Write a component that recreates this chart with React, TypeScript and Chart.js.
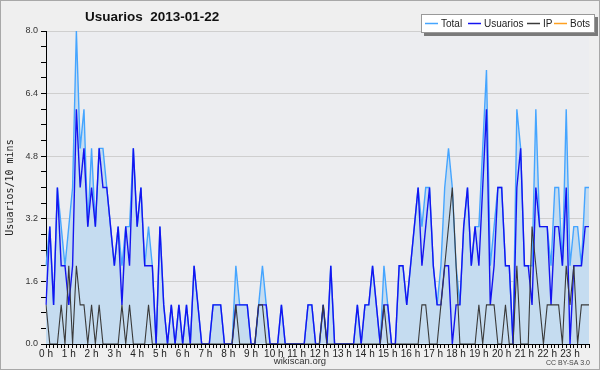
import React, { useEffect, useRef } from 'react';
import { Chart, registerables } from 'chart.js';

Chart.register(...registerables);

// 10-minute slots of the day (144)
const slots: string[] = Array.from({ length: 144 }, (_, i) => `${Math.floor(i / 6)}:${(i % 6) * 10}`);
const hourLabels: string[] = Array.from({ length: 24 }, (_, h) => `${h} h`);
const yTickLabels = [0, 1.6, 3.2, 4.8, 6.4, 8.0];

const total = [
  2, 3, 1, 4, 3, 2, 3, 4, 8, 5, 6, 3, 5, 3, 5, 5, 4, 3,
  2, 3, 2, 3, 3, 5, 3, 4, 2, 3, 2, 0, 3, 1, 0, 1, 0, 1,
  0, 1, 0, 2, 1, 0, 0, 0, 1, 1, 1, 0, 0, 0, 2, 1, 1, 1,
  0, 0, 1, 2, 1, 0, 0, 0, 1, 0, 0, 0, 0, 0, 0, 1, 1, 0,
  0, 1, 0, 2, 0, 0, 0, 0, 0, 0, 1, 0, 1, 1, 2, 1, 0, 2,
  1, 0, 0, 2, 2, 1, 2, 3, 4, 3, 4, 4, 2, 1, 2, 4, 5, 4,
  2, 1, 3, 4, 2, 3, 3, 5, 7, 2, 3, 4, 4, 2, 2, 0, 6, 5,
  2, 2, 2, 6, 3, 3, 3, 2, 4, 4, 2, 6, 2, 3, 3, 2, 4, 4,
];
const usuarios = [
  1, 3, 1, 4, 2, 2, 1, 2, 6, 4, 5, 3, 4, 3, 5, 4, 4, 3,
  2, 3, 1, 3, 2, 5, 3, 4, 2, 2, 2, 0, 3, 1, 0, 1, 0, 1,
  0, 1, 0, 2, 1, 0, 0, 0, 1, 1, 1, 0, 0, 0, 1, 1, 1, 1,
  0, 0, 1, 1, 1, 0, 0, 0, 1, 0, 0, 0, 0, 0, 0, 1, 1, 0,
  0, 1, 0, 2, 0, 0, 0, 0, 0, 0, 1, 0, 1, 1, 2, 1, 0, 1,
  1, 0, 0, 2, 2, 1, 2, 3, 4, 2, 3, 4, 2, 1, 1, 2, 2, 0,
  1, 1, 3, 4, 2, 3, 2, 4, 6, 1, 2, 4, 4, 2, 2, 0, 4, 5,
  2, 2, 1, 4, 3, 3, 3, 1, 3, 3, 2, 4, 0, 2, 2, 2, 3, 3,
];
const ip = [
  1, 0, 0, 0, 1, 0, 2, 0, 2, 1, 1, 0, 1, 0, 1, 0, 0, 0,
  0, 0, 1, 0, 1, 0, 0, 0, 0, 1, 0, 0, 0, 0, 0, 0, 0, 0,
  0, 0, 0, 0, 0, 0, 0, 0, 0, 0, 0, 0, 0, 0, 1, 0, 0, 0,
  0, 0, 1, 1, 0, 0, 0, 0, 0, 0, 0, 0, 0, 0, 0, 0, 0, 0,
  0, 1, 0, 0, 0, 0, 0, 0, 0, 0, 0, 0, 0, 0, 0, 0, 0, 1,
  0, 0, 0, 0, 0, 0, 0, 0, 0, 1, 1, 0, 0, 0, 1, 2, 3, 4,
  2, 0, 0, 0, 0, 0, 1, 0, 1, 1, 1, 0, 0, 1, 0, 0, 2, 0,
  0, 0, 3, 2, 1, 0, 1, 1, 1, 1, 0, 2, 1, 2, 0, 1, 1, 1,
];
const bots = [
  0, 0, 0, 0, 0, 0, 0, 0, 0, 0, 0, 0, 0, 0, 0, 0, 0, 0,
  0, 0, 0, 0, 0, 0, 0, 0, 0, 0, 0, 0, 0, 0, 0, 0, 0, 0,
  0, 0, 0, 0, 0, 0, 0, 0, 0, 0, 0, 0, 0, 0, 0, 0, 0, 0,
  0, 0, 0, 0, 0, 0, 0, 0, 0, 0, 0, 0, 0, 0, 0, 0, 0, 0,
  0, 0, 0, 0, 0, 0, 0, 0, 0, 0, 0, 0, 0, 0, 0, 0, 0, 0,
  0, 0, 0, 0, 0, 0, 0, 0, 0, 0, 0, 0, 0, 0, 0, 0, 0, 0,
  0, 0, 0, 0, 0, 0, 0, 0, 0, 0, 0, 0, 0, 0, 0, 0, 0, 0,
  0, 0, 0, 0, 0, 0, 0, 0, 0, 0, 0, 0, 0, 0, 0, 0, 0, 0,
];

const seriesNames = ['Total', 'Usuarios', 'IP', 'Bots'];
const seriesColors = ['#45a5ff', '#1414f0', '#3a3a3a', '#ffa020'];
const titleText = 'Usuarios  2013-01-22';
const yTitle = 'Usuarios/10 mins';
const footer = 'wikiscan.org';
const license = 'CC BY-SA 3.0';

const isMajor = (v: number) => Math.abs(v / 1.6 - Math.round(v / 1.6)) < 1e-6;

const decor = {
  id: 'decor',
  beforeDraw(chart: any) {
    const { ctx, chartArea: a, width, height } = chart;
    ctx.save();
    ctx.fillStyle = '#efefef';
    ctx.fillRect(0, 0, width, height);
    ctx.fillStyle = '#ecedf0';
    ctx.fillRect(a.left, a.top, a.right - a.left, a.bottom - a.top);
    ctx.strokeStyle = '#a8a8a8';
    ctx.lineWidth = 1;
    ctx.strokeRect(0.5, 0.5, width - 1, height - 1);
    ctx.restore();
  },
  afterDraw(chart: any) {
    const { ctx, chartArea: a } = chart;
    ctx.save();
    // title
    ctx.fillStyle = '#111';
    ctx.font = 'bold 13.5px "Liberation Sans", Arial, sans-serif';
    ctx.textBaseline = 'middle';
    ctx.textAlign = 'left';
    ctx.fillText(titleText, 85, 17);
    // y title
    ctx.save();
    ctx.translate(10, (a.top + a.bottom) / 2);
    ctx.rotate(-Math.PI / 2);
    ctx.textAlign = 'center';
    ctx.font = '10px "DejaVu Sans Mono", monospace';
    ctx.fillStyle = '#222';
    ctx.fillText(yTitle, 0, 0);
    ctx.restore();
    // footer
    ctx.textAlign = 'center';
    ctx.font = '9.5px "Liberation Sans", Arial, sans-serif';
    ctx.fillStyle = '#333';
    ctx.fillText(footer, 300, 361);
    ctx.textAlign = 'right';
    ctx.font = '7px "Liberation Sans", Arial, sans-serif';
    ctx.fillStyle = '#444';
    ctx.fillText(license, 590, 363);
    // legend
    const bx = 421, by = 14, bw = 174, bh = 19;
    ctx.fillStyle = '#7a7a7a';
    ctx.fillRect(bx + 3, by + 3, bw, bh);
    ctx.fillStyle = '#ffffff';
    ctx.fillRect(bx, by, bw, bh);
    ctx.strokeStyle = '#999';
    ctx.lineWidth = 1;
    ctx.strokeRect(bx + 0.5, by + 0.5, bw - 1, bh - 1);
    ctx.font = '10px "Liberation Sans", Arial, sans-serif';
    ctx.textAlign = 'left';
    ctx.textBaseline = 'middle';
    const sampleX = [425, 468, 527, 554];
    const cy = by + bh / 2;
    seriesNames.forEach((name, k) => {
      const x = sampleX[k];
      ctx.strokeStyle = seriesColors[k];
      ctx.lineWidth = 1.5;
      ctx.beginPath();
      ctx.moveTo(x, cy);
      ctx.lineTo(x + 13, cy);
      ctx.stroke();
      ctx.fillStyle = '#222';
      ctx.fillText(name, x + 16, cy + 0.5);
    });
    ctx.restore();
  },
};

export default function App() {
  const ref = useRef<HTMLCanvasElement>(null);
  useEffect(() => {
    if (!ref.current) return;
    const chart = new Chart(ref.current, {
      type: 'line',
      data: {
        labels: slots,
        datasets: [
          {
            label: seriesNames[0], data: total, borderColor: seriesColors[0], borderWidth: 1.4,
            backgroundColor: '#c5dcf0', fill: 'origin', pointRadius: 0, tension: 0, order: 4,
          },
          {
            label: seriesNames[1], data: usuarios, borderColor: seriesColors[1], borderWidth: 1.4,
            fill: false, pointRadius: 0, tension: 0, order: 3,
          },
          {
            label: seriesNames[2], data: ip, borderColor: seriesColors[2], borderWidth: 1.1,
            fill: false, pointRadius: 0, tension: 0, order: 2,
          },
          {
            label: seriesNames[3], data: bots, borderColor: seriesColors[3], borderWidth: 1,
            fill: false, pointRadius: 0, tension: 0, order: 5,
          },
        ],
      },
      options: {
        responsive: false,
        animation: false,
        devicePixelRatio: 1,
        layout: { padding: { top: 31, right: 11, bottom: 0, left: 0 } },
        plugins: { legend: { display: false }, title: { display: false }, tooltip: { enabled: false } },
        scales: {
          x: {
            type: 'category',
            offset: false,
            border: { color: '#000', width: 1, z: 1 },
            grid: { drawOnChartArea: false, drawTicks: true, tickLength: 4, tickColor: '#000' },
            ticks: {
              autoSkip: false,
              maxRotation: 0,
              minRotation: 0,
              padding: 0,
              color: '#222',
              font: { family: '"Liberation Sans", Arial, sans-serif', size: 10 },
              callback: (_v: any, i: number) => (i % 6 === 0 ? hourLabels[i / 6] : ''),
            },
            afterFit: (s: any) => { s.height = 26; },
          },
          y: {
            type: 'linear',
            min: 0,
            max: 8,
            border: { color: '#000', width: 1 },
            grid: {
              color: (c: any) => (c.tick && isMajor(c.tick.value) && c.tick.value > 0 ? '#cfcfcf' : 'rgba(0,0,0,0)'),
              tickColor: '#000',
              tickLength: 5,
              lineWidth: 1,
            },
            ticks: {
              stepSize: 0.4,
              padding: 3,
              color: '#333',
              font: { family: '"Liberation Sans", Arial, sans-serif', size: 9 },
              callback: (v: any) => {
                const n = Number(v);
                const hit = yTickLabels.find((t) => Math.abs(t - n) < 1e-6);
                return hit !== undefined ? hit.toFixed(1) : '';
              },
            },
            afterFit: (s: any) => { s.width = 46; },
          },
        },
      },
      plugins: [decor],
    });
    return () => chart.destroy();
  }, []);
  return (
    <canvas
      ref={ref}
      width={600}
      height={370}
      style={{ position: 'fixed', left: 0, top: 0, width: 600, height: 370 }}
    />
  );
}
